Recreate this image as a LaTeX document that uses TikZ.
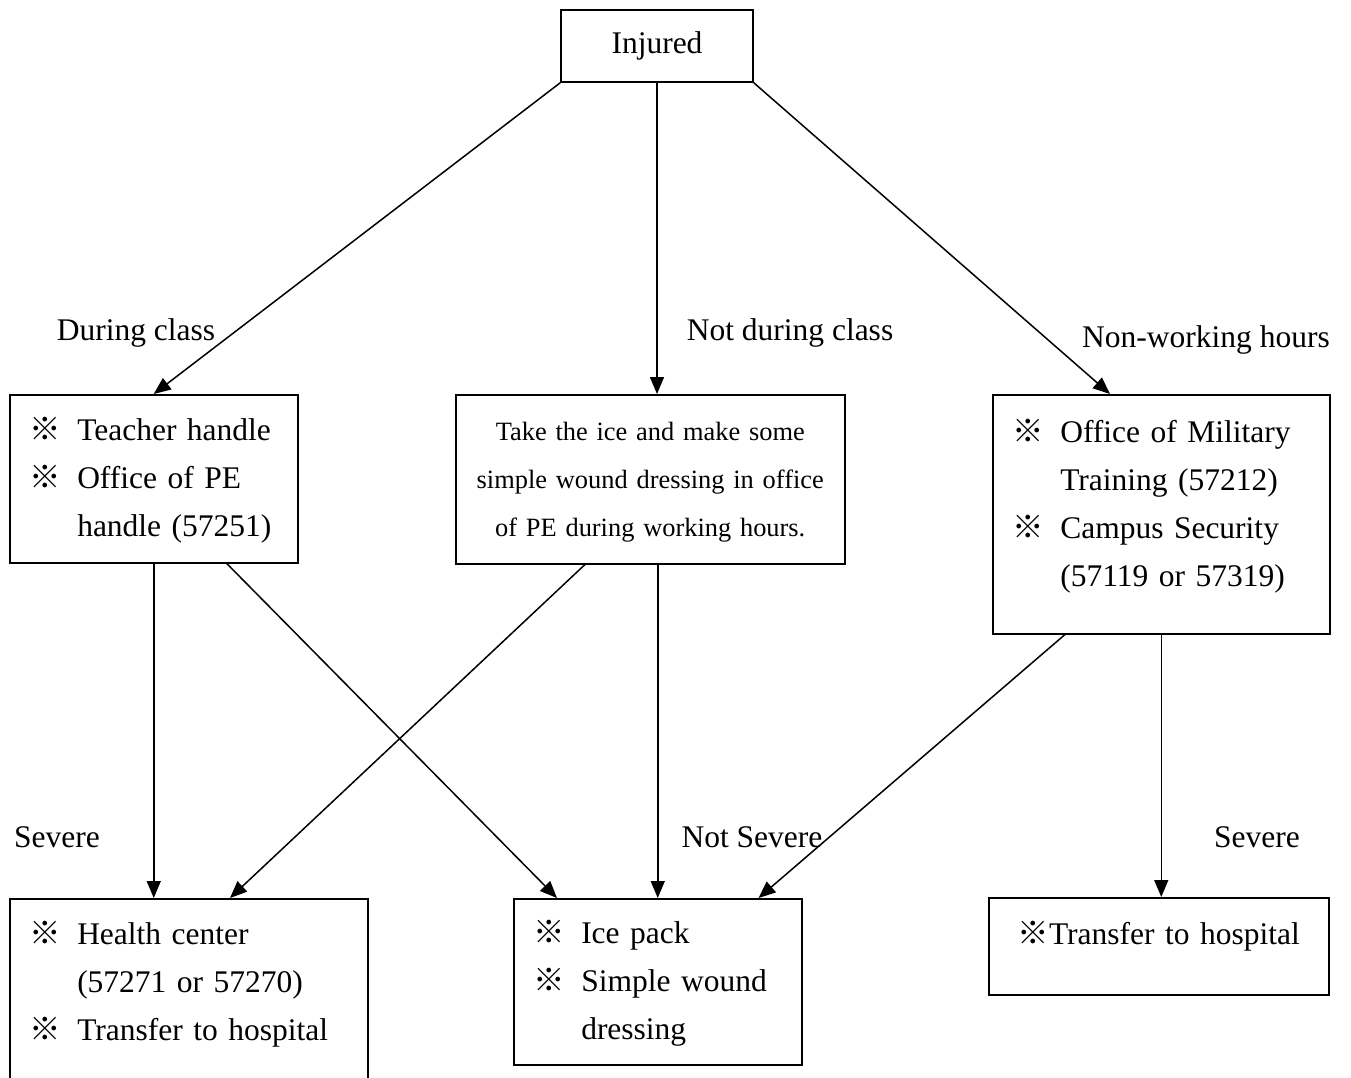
\documentclass[tikz,border=0pt]{standalone}
\usepackage{fontspec}
\setmainfont{Liberation Serif}
\newfontfamily\cjk{Noto Sans CJK SC}
\usetikzlibrary{arrows.meta}
\newcommand{\kome}{{\cjk ※}}
\tikzset{box/.style={draw, line width=1.5pt, anchor=north west, inner xsep=20pt, inner ysep=0pt, align=left},
  lbl/.style={inner sep=2pt}}

\begin{document}
\begin{tikzpicture}[x=1pt, y=-1pt, >={Triangle[length=17pt,width=14pt]}, line width=1.5pt,
    font=\fontsize{31.5}{48}\selectfont]
  \clip (0,0) rectangle (1351,1077);
  \fill[white] (0,0) rectangle (1351,1077);

  \node[box, anchor=center, align=center, inner xsep=0pt, minimum width=192pt, minimum height=72pt] (inj) at (657,46) {Injured};

  % second row
  \node[box, text width=248pt, minimum height=168pt] (ta) at (9,394)
    {\begin{tabular}{@{}l@{\hspace{16pt}}l@{}}\kome & Teacher handle\\ \kome & Office of PE\\ & handle (57251)\end{tabular}};
  \node[box, text width=349pt, minimum height=169pt, align=center, font=\fontsize{26.4}{48}\selectfont] (nb) at (455,394)
    {\begin{tabular}{@{}c@{}}Take the ice and make some\\ simple wound dressing in office\\ of PE during working hours.\end{tabular}};
  \node[box, text width=297pt, minimum height=239pt] (mil) at (992,394)
    {\begin{tabular}{@{}l@{\hspace{16pt}}l@{}}\kome & Office of Military\\ & Training (57212)\\ \kome & Campus Security\\ & (57119 or 57319)\\[18pt]\end{tabular}};

  % third row
  \node[box, text width=318pt, minimum height=200pt] (hc) at (9,898)
    {\begin{tabular}{@{}l@{\hspace{16pt}}l@{}}\kome & Health center\\ & (57271 or 57270)\\ \kome & Transfer to hospital\\[31pt]\end{tabular}};
  \node[box, text width=248pt, minimum height=166pt] (ice) at (513,898)
    {\begin{tabular}{@{}l@{\hspace{16pt}}l@{}}\kome & Ice pack\\ \kome & Simple wound\\ & dressing\end{tabular}};
  \node[box, text width=300pt, minimum height=97pt, align=center] (tr) at (988,897)
    {\begin{tabular}{@{}c@{}}\kome Transfer to hospital\\[22pt]\end{tabular}};

  % labels
  \node[lbl] (dc) at (136,333) {During class};
  \node[lbl] (ndc) at (790,333) {Not during class};
  \node[lbl] (nwh) at (1206,340) {Non-working hours};
  \node[lbl] (sv1) at (57,837) {Severe};
  \node[lbl] (nsv) at (752,837) {Not Severe};
  \node[lbl] (sv2) at (1257,837) {Severe};

  % arrows
  \draw[->] (inj.south west) -- (ta.north);
  \draw[->] (inj.south) -- (inj.south |- nb.north);
  \draw[->] (inj.south east) -- ([xshift=118pt]mil.north west);

  \draw[->] (ta.south) -- (ta.south |- hc.north);
  \draw[->] ([xshift=73pt]ta.south) -- ([xshift=44pt]ice.north west);
  \draw[->] ([xshift=130pt]nb.south west) -- ([xshift=221pt]hc.north west);
  \draw[->] (ice.north |- nb.south) -- (ice.north);
  \draw[->] ([xshift=73pt]mil.south west) -- ([xshift=-44pt]ice.north east);
  \draw[->] (mil.south) -- (mil.south |- tr.north);
\end{tikzpicture}
\end{document}
